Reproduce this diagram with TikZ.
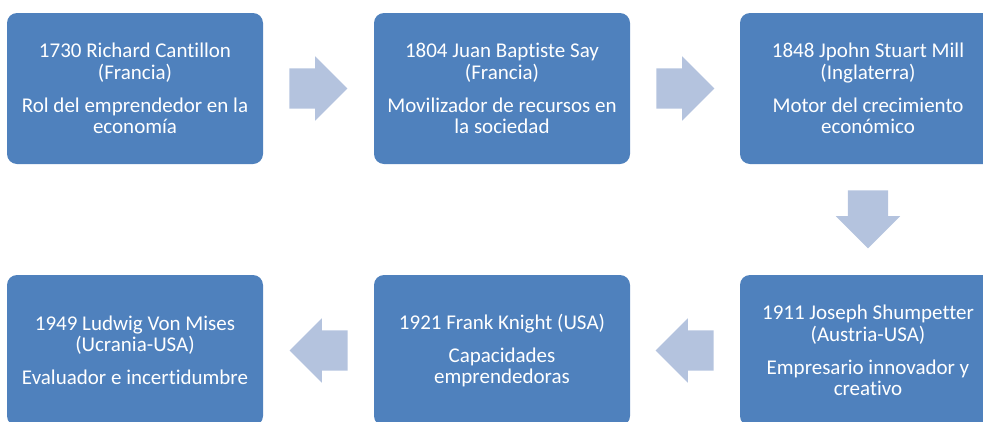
\documentclass[tikz,border=0pt]{standalone}
\usepackage{fontspec}
\setmainfont{Carlito}[Ligatures=NoCommon]
\usetikzlibrary{shapes.arrows,calc}

\definecolor{boxblue}{RGB}{79,129,189}
\definecolor{arrowblue}{RGB}{180,195,222}

\tikzset{
  era/.style={fill=boxblue, rounded corners=10pt, minimum width=256pt, minimum height=151pt,
    text=white, align=center, font=\fontsize{21}{21.5}\selectfont},
  blockarrow/.style={single arrow, fill=arrowblue, inner xsep=0pt, inner ysep=20pt, minimum height=58pt,
    single arrow head extend=12pt, single arrow head indent=0pt, anchor=tail}
}

\begin{document}
\begin{tikzpicture}[x=1pt, y=-1pt]
  \useasboundingbox (0,0) rectangle (983,421);
  \clip (0,0) rectangle (983,421);

  % top row, left to right
  \node[era] (cantillon) at (135,88.5) {1730 Richard Cantillon\\(Francia)\\[11.5pt]Rol del emprendedor en la\\econom\'{\i}a};
  \node[era] (say) at (502,88.5) {1804 Juan Baptiste Say\\(Francia)\\[11.5pt]Movilizador de recursos en\\la sociedad};
  \node[era] (mill) at (868,88.5) {1848 Jpohn Stuart Mill\\(Inglaterra)\\[11.5pt]Motor del crecimiento\\econ\'omico};

  % bottom row, right to left
  \node[era] (schumpeter) at (868,350.5) {1911 Joseph Shumpetter\\(Austria-USA)\\[11.5pt]Empresario innovador y\\creativo};
  \node[era] (knight) at (502,350.5) {1921 Frank Knight (USA)\\[11.5pt]Capacidades\\emprendedoras};
  \node[era] (mises) at (135,350.5) {1949 Ludwig Von Mises\\(Ucrania-USA)\\[11.5pt]Evaluador e incertidumbre};

  % block arrows, tail 26pt off the box they leave
  \node[blockarrow] (a1) at ($(cantillon.east)+(26,0)$) {};
  \node[blockarrow] (a2) at ($(say.east)+(26,0)$) {};
  \node[blockarrow, rotate=-90] (a3) at ($(mill.south)+(0,26)$) {};
  \node[blockarrow, rotate=180] (a4) at ($(schumpeter.west)+(-26,0)$) {};
  \node[blockarrow, rotate=180] (a5) at ($(knight.west)+(-26,0)$) {};
\end{tikzpicture}
\end{document}
